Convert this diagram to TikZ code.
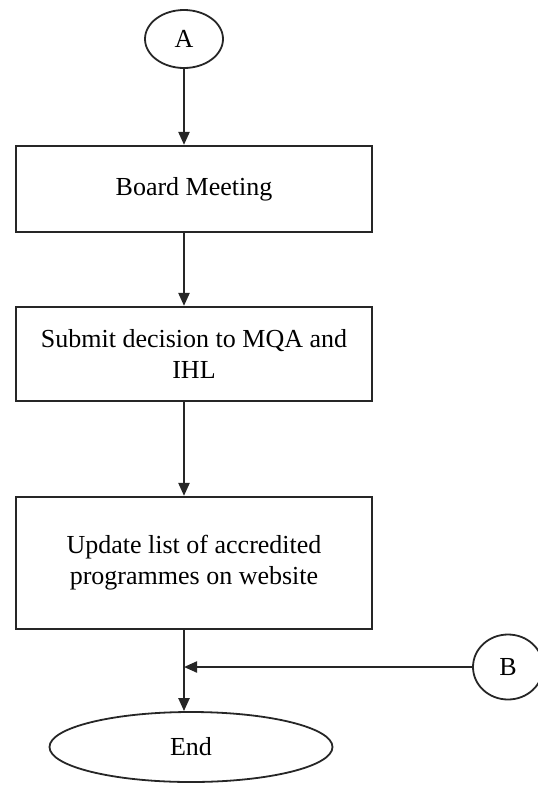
\documentclass[tikz,border=0pt]{standalone}
\usepackage{fontspec}
\setmainfont{Liberation Serif}
\usetikzlibrary{arrows.meta,shapes.geometric}

\begin{document}
\begin{tikzpicture}[x=1pt,y=-1pt,>={Triangle[length=13pt,width=11pt]},
 box/.style={draw=black!85,line width=2.2pt,minimum width=356pt,
 align=center,inner sep=0pt},
 oval/.style={draw=black!85,ellipse,line width=1.8pt,inner sep=0pt},
 flow/.style={->,line width=2.2pt,black!85},
 every node/.style={font=\fontsize{26}{31}\selectfont}]
 \useasboundingbox (0,0) rectangle (538,785);
 \node[oval,minimum width=78pt,minimum height=58pt] (A) at (184,39) {A};
 \node[box,minimum height=86pt] (meet) at (194,189) {Board Meeting};
 \node[box,minimum height=94pt] (submit) at (194,354) {Submit decision to MQA and\\IHL};
 \node[box,minimum height=132pt] (update) at (194,563) {Update list of accredited\\programmes on website};
 \node[oval,minimum width=70pt,minimum height=65pt] (B) at (508,667) {B};
 \node[oval,minimum width=283pt,minimum height=70pt] (end) at (191,747) {End};
 \coordinate (join) at (A |- B);
 \draw[flow] (A)--(A |- meet.north);
 \draw[flow] (meet.south -| A)--(A |- submit.north);
 \draw[flow] (submit.south -| A)--(A |- update.north);
 \draw[flow] (update.south -| A)--(A |- end.north);
 \draw[flow] (B)--(join);
\end{tikzpicture}
\end{document}
